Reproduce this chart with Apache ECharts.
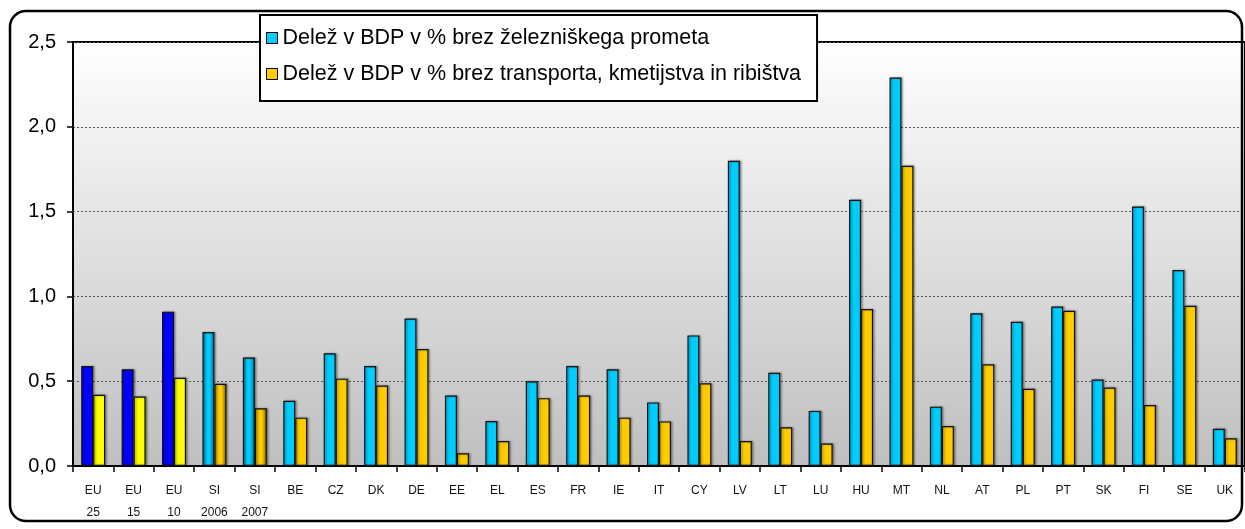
<!DOCTYPE html>
<html>
<head>
<meta charset="utf-8">
<script src="https://cdn.jsdelivr.net/npm/echarts@6/dist/echarts.min.js"></script>
<style>
  html, body { margin: 0; padding: 0; background: #fff; }
  #chart { width: 1245px; height: 529px; }
</style>
</head>
<body>
<div id="chart"></div>
<script>
let categories = ['EU\n25', 'EU\n15', 'EU\n10', 'SI\n2006', 'SI\n2007', 'BE', 'CZ', 'DK', 'DE', 'EE', 'EL', 'ES', 'FR', 'IE', 'IT',
    'CY', 'LV', 'LT', 'LU', 'HU', 'MT', 'NL', 'AT', 'PL', 'PT', 'SK', 'FI', 'SE', 'UK'];

let seriesNames = ['Delež v BDP v % brez železniškega prometa', 'Delež v BDP v % brez transporta, kmetijstva in ribištva'];

// brez železniškega prometa
let withoutRail = [0.59, 0.57, 0.91, 0.79, 0.64, 0.385, 0.665, 0.59, 0.87, 0.415, 0.265, 0.50, 0.59, 0.57, 0.375,
    0.77, 1.80, 0.55, 0.325, 1.57, 2.29, 0.35, 0.90, 0.85, 0.94, 0.51, 1.53, 1.155, 0.22];

// brez transporta, kmetijstva in ribištva
let withoutTransport = [0.42, 0.41, 0.52, 0.485, 0.34, 0.285, 0.515, 0.475, 0.69, 0.075, 0.147, 0.40, 0.415, 0.285, 0.263,
    0.488, 0.147, 0.228, 0.133, 0.925, 1.77, 0.236, 0.60, 0.455, 0.915, 0.463, 0.36, 0.945, 0.163];

let yTicks = [0, 0.5, 1.0, 1.5, 2.0, 2.5];

let fontFamily = "'Liberation Sans', Arial, sans-serif";

let euIdx = [0, 1, 2];
let siIdx = [3, 4];

let grad = function (stops) {
    return new echarts.graphic.LinearGradient(0, 0, 1, 0, stops.map(c => ({ offset: c[0], color: c[1] })));
};

let buildData = function (values, euColor, siStops) {
    return values.map((v, i) => {
        if (euIdx.includes(i)) return { value: v, itemStyle: { color: euColor } };
        if (siIdx.includes(i)) return { value: v, itemStyle: { color: grad(siStops) } };
        return v;
    });
};

let chart = echarts.init(document.getElementById('chart'));

let barStyle = {
    borderColor: '#111',
    borderWidth: 1.2,
    shadowColor: 'rgba(0,0,0,0.35)',
    shadowBlur: 2,
    shadowOffsetX: 1.5,
    shadowOffsetY: 0
};

let option = {
    animation: false,
    textStyle: { fontFamily: fontFamily },
    graphic: [{
        type: 'rect',
        shape: { x: 10, y: 11, width: 1232, height: 510, r: 16 },
        style: { fill: 'none', stroke: '#000', lineWidth: 2.5 },
        z: 10
    }],
    legend: {
        orient: 'vertical',
        left: 260,
        top: 15,
        backgroundColor: '#fff',
        borderColor: '#000',
        borderWidth: 2,
        padding: [12, 16, 16, 6],
        itemGap: 14,
        itemWidth: 11,
        itemHeight: 11,
        icon: 'rect',
        itemStyle: { borderColor: '#000', borderWidth: 1 },
        textStyle: { fontSize: 21.5, lineHeight: 21, color: '#000', fontFamily: fontFamily },
        z: 5
    },
    grid: {
        left: 73,
        top: 42,
        width: 1175,
        bottom: 63,
        show: true,
        borderColor: '#000',
        borderWidth: 2,
        backgroundColor: new echarts.graphic.LinearGradient(0, 0, 0, 1, [
            { offset: 0, color: '#ffffff' },
            { offset: 1, color: '#bfbfbf' }
        ])
    },
    xAxis: {
        type: 'category',
        data: categories,
        axisLine: { lineStyle: { color: '#000', width: 2 } },
        axisTick: { show: true, length: 6, lineStyle: { color: '#000', width: 1.5 } },
        axisLabel: { color: '#111', fontSize: 12, lineHeight: 22, margin: 14, interval: 0, fontFamily: fontFamily }
    },
    yAxis: {
        type: 'value',
        min: yTicks[0],
        max: yTicks[yTicks.length - 1],
        interval: 0.5,
        axisLine: { show: true, lineStyle: { color: '#000', width: 2 } },
        axisTick: { show: true, length: 6, lineStyle: { color: '#000', width: 1.5 } },
        axisLabel: {
            color: '#000', fontSize: 20, margin: 17, fontFamily: fontFamily,
            formatter: v => v.toFixed(1).replace('.', ',')
        },
        splitLine: { show: true, lineStyle: { color: '#555', width: 1, type: [2, 2] } }
    },
    series: [
        {
            name: seriesNames[0],
            type: 'bar',
            barWidth: 12,
            barGap: '0%',
            color: '#00ccff',
            itemStyle: barStyle,
            data: buildData(withoutRail, '#0000ff', [[0, '#0088aa'], [0.4, '#00ccff'], [0.6, '#00ccff'], [1, '#006f8c']])
        },
        {
            name: seriesNames[1],
            type: 'bar',
            barWidth: 12,
            color: '#ffcc00',
            itemStyle: barStyle,
            data: buildData(withoutTransport, '#ffff00', [[0, '#c89600'], [0.35, '#ffcc00'], [0.6, '#ffcc00'], [1, '#7a5c00']])
        }
    ]
};

chart.setOption(option);
</script>
</body>
</html>
